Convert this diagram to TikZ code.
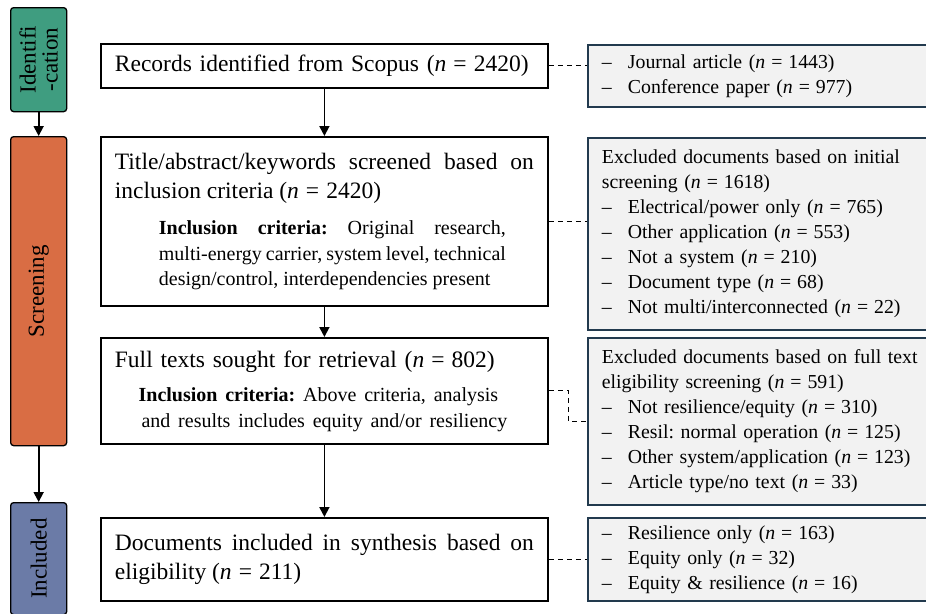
\documentclass[tikz,border=0pt]{standalone}
\usepackage{fontspec}
\setmainfont{Liberation Serif}
\usetikzlibrary{arrows.meta}
\definecolor{idgreen}{HTML}{3F9D80}
\definecolor{scrorange}{HTML}{D96D44}
\definecolor{incblue}{HTML}{6B7BA7}
\definecolor{graybox}{HTML}{F2F2F2}
\definecolor{navyline}{HTML}{223A4E}
\newcommand{\nv}[1]{(\textit{n}\hspace{0.3em}=\hspace{0.3em}#1)}
\newcommand{\itm}{\makebox[26pt][l]{--}}
\frenchspacing
\hyphenpenalty=10000
\exhyphenpenalty=10000
\begin{document}
\begin{tikzpicture}[x=1pt,y=-1pt,
  phase/.style={draw=black, line width=1.3pt, rounded corners=3pt, minimum width=56pt, anchor=north west, inner sep=0pt},
  phasetext/.style={rotate=90, align=center, font=\fontsize{23}{22}\selectfont, inner sep=0pt},
  mainbox/.style={draw=black, line width=1.8pt, anchor=north west, inner xsep=14pt, inner ysep=0pt, text width=419pt, font=\fontsize{23.5}{29}\selectfont},
  sidebox/.style={draw=navyline, fill=graybox, line width=1.8pt, anchor=north west, inner xsep=14pt, inner ysep=0pt, text width=322pt, align=left, font=\fontsize{19.8}{25}\selectfont},
  flow/.style={line width=1.8pt, -{Triangle[width=10pt,length=10pt]}},
  link/.style={line width=1pt, dash pattern=on 5pt off 4pt}
]
\path[use as bounding box, clip] (0,0) rectangle (926,613);
\fill[white] (0,0) rectangle (926,613);

% phase boxes
\node[phase, fill=idgreen, minimum height=104pt] (id) at (10,7) {};
\node[phasetext] (idt) at (id.center) {Identifi\\-cation};
\node[phase, fill=scrorange, minimum height=309pt] (scr) at (10,136) {};
\node[phasetext] (scrt) at (scr.center) {Screening};
\node[phase, fill=incblue, minimum height=112pt] (inc) at (10,502) {};
\node[phasetext] (inct) at (inc.center) {Included};
\draw[flow] (id.south) -- (scr.north);
\draw[flow] (scr.south) -- (inc.north);

% main boxes
\node[mainbox, minimum height=44pt, align=left] (b1) at (100,43) {Records identified from Scopus \nv{2420}};
\node[mainbox, minimum height=169pt, align=justify] (b2) at (100,136) {Title/abstract/keywords screened based on\linebreak inclusion criteria \nv{2420}\par\vspace{11pt}
{\fontsize{20}{25.5}\selectfont\leftskip=44pt\rightskip=28pt \textbf{Inclusion criteria:} Original research,\linebreak multi-energy carrier, system level, technical\linebreak design/control, interdependencies present\par}};
\node[mainbox, minimum height=106pt, align=left] (b3) at (100,337) {Full texts sought for retrieval \nv{802}\par\vspace{8pt}
{\fontsize{20}{26}\selectfont\hspace*{-6pt}\makebox[419pt][c]{\textbf{Inclusion criteria:} Above criteria, analysis}\par
\makebox[419pt][c]{and results includes equity and/or resiliency}\par}};
\node[mainbox, minimum height=83pt, align=justify] (b4) at (100,517) {Documents included in synthesis based on\linebreak eligibility \nv{211}};

\draw[flow] (b1.south) -- (b2.north);
\draw[flow] (b2.south) -- (b3.north);
\draw[flow] (b3.south) -- (b4.north);

% side boxes
\node[sidebox, minimum height=62pt] (r1) at (587,44) {\itm Journal article \nv{1443}\\ \itm Conference paper \nv{977}};
\node[sidebox, minimum height=192pt] (r2) at (587,137) {Excluded documents based on initial\\ screening \nv{1618}\\ \itm Electrical/power only \nv{765}\\ \itm Other application \nv{553}\\ \itm Not a system \nv{210}\\ \itm Document type \nv{68}\\ \itm Not multi/interconnected \nv{22}};
\node[sidebox, minimum height=167pt] (r3) at (587,337) {Excluded documents based on full text\\ eligibility screening \nv{591}\\ \itm Not resilience/equity \nv{310}\\ \itm Resil: normal operation \nv{125}\\ \itm Other system/application \nv{123}\\ \itm Article type/no text \nv{33}};
\node[sidebox, minimum height=83pt] (r4) at (587,517) {\itm Resilience only \nv{163}\\ \itm Equity only \nv{32}\\ \itm Equity \& resilience \nv{16}};

% dashed links
\draw[link] (b1.east) -- (b1.east -| r1.west);
\draw[link] (b2.east) -- (b2.east -| r2.west);
\draw[link] (b3.east) -- ++(20,0) |- (r3.west);
\draw[link] (b4.east) -- (b4.east -| r4.west);
\end{tikzpicture}
\end{document}
